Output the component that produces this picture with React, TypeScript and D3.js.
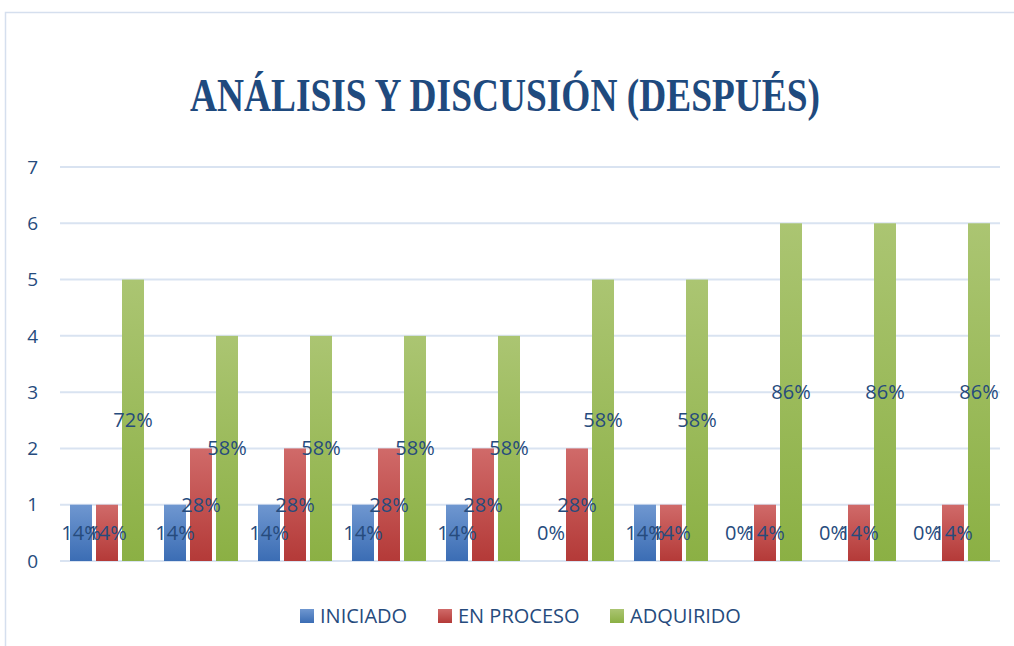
import { useEffect, useRef } from "react";
import * as d3 from "d3";

const categories = ["1", "2", "3", "4", "5", "6", "7", "8", "9", "10"];
const seriesNames = ["INICIADO", "EN PROCESO", "ADQUIRIDO"];
const iniciado = [1, 1, 1, 1, 1, 0, 1, 0, 0, 0];
const enProceso = [1, 2, 2, 2, 2, 2, 1, 1, 1, 1];
const adquirido = [5, 4, 4, 4, 4, 5, 5, 6, 6, 6];
const iniciadoLabels = ["14%", "14%", "14%", "14%", "14%", "0%", "14%", "0%", "0%", "0%"];
const enProcesoLabels = ["14%", "28%", "28%", "28%", "28%", "28%", "14%", "14%", "14%", "14%"];
const adquiridoLabels = ["72%", "58%", "58%", "58%", "58%", "58%", "58%", "86%", "86%", "86%"];
const yTicks = [0, 1, 2, 3, 4, 5, 6, 7];

const gradients = [
  { id: "gBlue", top: "#6f97d0", bottom: "#3b6db4" },
  { id: "gRed", top: "#d06a69", bottom: "#b43a38" },
  { id: "gGreen", top: "#abc572", bottom: "#8bb044" },
];

const textColor = "#264b7d";

export default function App() {
  const svgRef = useRef<SVGSVGElement>(null);

  useEffect(() => {
    const svg = d3.select(svgRef.current);
    svg.selectAll("*").remove();

    const W = 1014;
    const H = 646;
    const plot = { left: 60, right: 1000, top: 167, bottom: 561 };

    const defs = svg.append("defs");
    gradients.forEach((g) => {
      const lg = defs
        .append("linearGradient")
        .attr("id", g.id)
        .attr("x1", 0)
        .attr("y1", 0)
        .attr("x2", 0)
        .attr("y2", 1);
      lg.append("stop").attr("offset", "0%").attr("stop-color", g.top);
      lg.append("stop").attr("offset", "100%").attr("stop-color", g.bottom);
    });

    svg.append("rect").attr("width", W).attr("height", H).attr("fill", "#fff");

    // chart border
    svg
      .append("rect")
      .attr("x", 5.5)
      .attr("y", 12.5)
      .attr("width", W + 20)
      .attr("height", H)
      .attr("fill", "none")
      .attr("stroke", "#d5dfee")
      .attr("stroke-width", 1.5);

    // title
    svg
      .append("text")
      .attr("x", 505)
      .attr("y", 111)
      .attr("text-anchor", "middle")
      .attr("textLength", 630)
      .attr("lengthAdjust", "spacingAndGlyphs")
      .style("font-family", "'Liberation Serif', 'Times New Roman', serif")
      .style("font-weight", "bold")
      .style("font-size", "46px")
      .attr("fill", "#1f4a7e")
      .text("ANÁLISIS Y DISCUSIÓN (DESPUÉS)");

    const y = d3.scaleLinear().domain([0, 7]).range([plot.bottom, plot.top]);
    const x0 = d3.scaleBand<string>().domain(categories).range([plot.left, plot.right]);
    const x1 = d3
      .scaleBand<string>()
      .domain(seriesNames)
      .range([10, x0.bandwidth() - 10])
      .paddingInner(0.154);

    // gridlines
    svg
      .append("g")
      .selectAll("line")
      .data(yTicks)
      .join("line")
      .attr("x1", plot.left)
      .attr("x2", plot.right)
      .attr("y1", (d) => y(d))
      .attr("y2", (d) => y(d))
      .attr("stroke", "#d9e3f1")
      .attr("stroke-width", 2);

    // y tick labels
    svg
      .append("g")
      .selectAll("text")
      .data(yTicks)
      .join("text")
      .attr("x", 38)
      .attr("y", (d) => y(d))
      .attr("dy", "0.35em")
      .attr("text-anchor", "end")
      .style("font-family", "'Open Sans', 'Noto Sans', sans-serif")
      .style("font-size", "19px")
      .attr("fill", textColor)
      .text((d) => d);

    const series = [
      { name: seriesNames[0], values: iniciado, labels: iniciadoLabels, fill: "url(#gBlue)" },
      { name: seriesNames[1], values: enProceso, labels: enProcesoLabels, fill: "url(#gRed)" },
      { name: seriesNames[2], values: adquirido, labels: adquiridoLabels, fill: "url(#gGreen)" },
    ];

    series.forEach((s) => {
      const g = svg.append("g");
      g.selectAll("rect")
        .data(categories)
        .join("rect")
        .attr("x", (c) => x0(c)! + x1(s.name)!)
        .attr("y", (_, i) => y(s.values[i]))
        .attr("width", x1.bandwidth())
        .attr("height", (_, i) => y(0) - y(s.values[i]))
        .attr("fill", s.fill);
    });

    // data labels drawn after bars so they sit on top
    series.forEach((s) => {
      svg
        .append("g")
        .selectAll("text")
        .data(categories)
        .join("text")
        .attr("x", (c) => x0(c)! + x1(s.name)! + x1.bandwidth() / 2)
        .attr("y", (_, i) => y(Math.max(s.values[i], 1) / 2))
        .attr("dy", "0.35em")
        .attr("text-anchor", "middle")
        .style("font-family", "'Open Sans', 'Noto Sans', sans-serif")
        .style("font-size", "20px")
        .attr("fill", textColor)
        .text((_, i) => s.labels[i]);
    });

    // legend
    const legendX = [300, 438, 610];
    const legend = svg.append("g");
    series.forEach((s, i) => {
      legend
        .append("rect")
        .attr("x", legendX[i])
        .attr("y", 609)
        .attr("width", 14)
        .attr("height", 14)
        .attr("fill", s.fill);
      legend
        .append("text")
        .attr("x", legendX[i] + 20)
        .attr("y", 616)
        .attr("dy", "0.35em")
        .style("font-family", "'Open Sans', 'Noto Sans', sans-serif")
        .style("font-size", "20px")
        .attr("fill", textColor)
        .text(s.name);
    });
  }, []);

  return (
    <div style={{ position: "absolute", left: 0, top: 0 }}>
      <svg ref={svgRef} width={1014} height={646} style={{ display: "block" }} />
    </div>
  );
}
